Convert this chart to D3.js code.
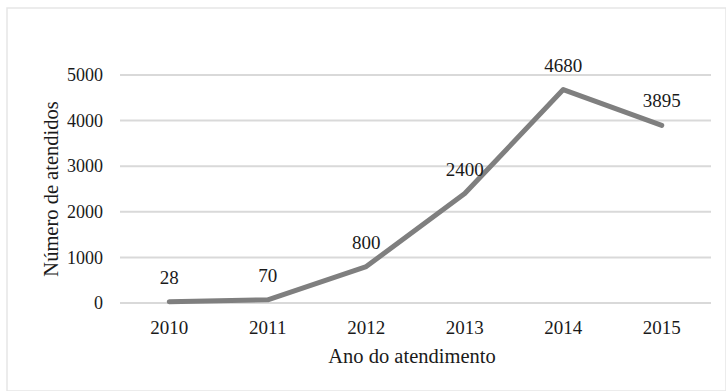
<!DOCTYPE html>
<html>
<head>
<meta charset="utf-8">
<script src="https://cdn.jsdelivr.net/npm/d3@7"></script>
<style>
  body { margin: 0; background: #fff; }
</style>
</head>
<body>
<svg id="chart"></svg>
<script>
const years = ['2010', '2011', '2012', '2013', '2014', '2015'];
const attended = [28, 70, 800, 2400, 4680, 3895];
const yTicks = [0, 1000, 2000, 3000, 4000, 5000];

const width = 726;
const height = 391;
const margin = { top: 75, right: 15, bottom: 88, left: 120 };
const serif = "'Liberation Serif', serif";
const ink = '#1a1a1a';

const svg = d3.select('#chart').attr('width', width).attr('height', height);

// light frame round the chart area
svg.append('rect')
  .attr('x', 7).attr('y', 8)
  .attr('width', width - 7).attr('height', height - 8)
  .attr('fill', '#fff')
  .attr('stroke', '#e6e6e6')
  .attr('stroke-width', 1.5);

const xScale = d3.scaleBand()
  .domain(years)
  .range([margin.left, width - margin.right]);

const yScale = d3.scaleLinear()
  .domain([0, 5000])
  .range([height - margin.bottom, margin.top]);

// grid
svg.append('g')
  .selectAll('line')
  .data(yTicks)
  .join('line')
  .attr('x1', margin.left)
  .attr('x2', width - margin.right)
  .attr('y1', d => yScale(d))
  .attr('y2', d => yScale(d))
  .attr('stroke', '#d9d9d9')
  .attr('stroke-width', 2);

// y axis labels
const yAxis = d3.axisLeft(yScale)
  .tickValues(yTicks)
  .tickFormat(d3.format('d'))
  .tickSize(0)
  .tickPadding(17);
svg.append('g')
  .attr('transform', 'translate(' + margin.left + ',0)')
  .call(yAxis)
  .call(g => g.select('.domain').remove())
  .selectAll('text')
  .style('font-family', serif)
  .style('font-size', '18px')
  .attr('fill', ink);

// x axis labels
const xAxis = d3.axisBottom(xScale).tickSize(0).tickPadding(18);
svg.append('g')
  .attr('transform', 'translate(0,' + (height - margin.bottom) + ')')
  .call(xAxis)
  .call(g => g.select('.domain').remove())
  .selectAll('text')
  .style('font-family', serif)
  .style('font-size', '19px')
  .attr('fill', ink);

const line = d3.line()
  .x((d, i) => xScale(years[i]) + xScale.bandwidth() / 2)
  .y(d => yScale(d));

svg.append('path')
  .datum(attended)
  .attr('d', line)
  .attr('fill', 'none')
  .attr('stroke', '#7f7f7f')
  .attr('stroke-width', 5)
  .attr('stroke-linejoin', 'round')
  .attr('stroke-linecap', 'round');

// value labels
svg.append('g')
  .selectAll('text')
  .data(attended)
  .join('text')
  .attr('x', (d, i) => xScale(years[i]) + xScale.bandwidth() / 2)
  .attr('y', d => yScale(d) - 18)
  .attr('text-anchor', 'middle')
  .style('font-family', serif)
  .style('font-size', '19px')
  .attr('fill', ink)
  .text(d => d);

// axis titles
svg.append('text')
  .attr('x', 412)
  .attr('y', 363)
  .attr('text-anchor', 'middle')
  .style('font-family', serif)
  .style('font-size', '20.5px')
  .attr('fill', ink)
  .text('Ano do atendimento');

svg.append('text')
  .attr('transform', 'translate(58,189) rotate(-90)')
  .attr('text-anchor', 'middle')
  .style('font-family', serif)
  .style('font-size', '20.5px')
  .attr('fill', ink)
  .text('Número de atendidos');
</script>
</body>
</html>
